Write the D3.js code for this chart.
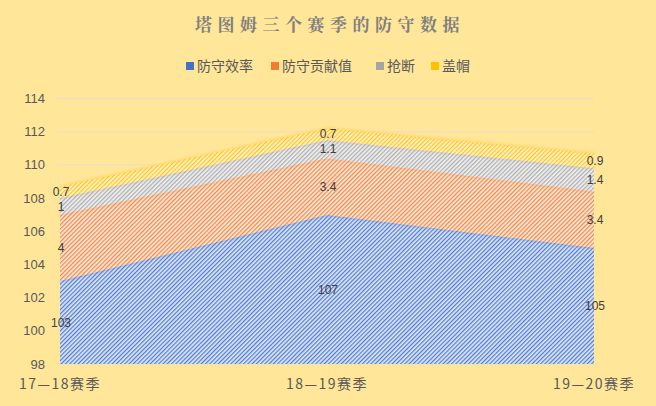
<!DOCTYPE html>
<html>
<head>
<meta charset="utf-8">
<script src="https://cdn.jsdelivr.net/npm/d3@7"></script>
<style>
  html, body { margin: 0; padding: 0; background: #FFE699; }
  svg { display: block; }
</style>
</head>
<body>
<div id="chart"></div>
<script>
// Tatum defensive stats, three seasons (stacked area)
const seasons = ['17—18赛季', '18—19赛季', '19—20赛季'];
const seriesNames = ['防守效率', '防守贡献值', '抢断', '盖帽'];
const defRating = [103, 107, 105];
const defContribution = [4, 3.4, 3.4];
const steals = [1, 1.1, 1.4];
const blocks = [0.7, 0.7, 0.9];
const yTicks = [98, 100, 102, 104, 106, 108, 110, 112, 114];

const width = 656, height = 406;
const margin = { left: 60, right: 62, top: 98.5, bottom: 42 };

// colours: stripe colour + pale base, per series
const palette = [
    { line: '#4F7AD0', base: '#DDE6F6', key: '#4472C4' },
    { line: '#EF8744', base: '#FCE8DA', key: '#ED7D31' },
    { line: '#ADADAD', base: '#EFEFEF', key: '#A5A5A5' },
    { line: '#FFC41A', base: '#FFF3D0', key: '#FFC000' }
];

const svg = d3.select('#chart').append('svg')
    .attr('width', width)
    .attr('height', height);

svg.append('rect')
    .attr('width', width)
    .attr('height', height)
    .attr('fill', '#FFE699');

// hatch patterns
const defs = svg.append('defs');
palette.forEach((p, i) => {
    const pat = defs.append('pattern')
        .attr('id', 'hatch' + i)
        .attr('patternUnits', 'userSpaceOnUse')
        .attr('width', 3)
        .attr('height', 3)
        .attr('patternTransform', 'rotate(45)');
    pat.append('rect').attr('width', 3).attr('height', 3).attr('fill', p.base);
    pat.append('rect').attr('width', 1.2).attr('height', 3).attr('fill', p.line);
});
defs.append('filter').attr('id', 'soft')
    .append('feGaussianBlur').attr('stdDeviation', 0.8);

const x = d3.scalePoint()
    .domain(seasons)
    .range([margin.left, width - margin.right]);

const y = d3.scaleLinear()
    .domain([98, 114])
    .range([height - margin.bottom, margin.top]);

// gridlines
svg.append('g')
    .selectAll('line')
    .data(yTicks)
    .enter()
    .append('line')
    .attr('x1', margin.left - 3)
    .attr('x2', width - margin.right)
    .attr('y1', d => y(d))
    .attr('y2', d => y(d))
    .attr('stroke', '#F0DEC2')
    .attr('stroke-width', 1.3);

// stack data
const table = seasons.map((s, i) => ({
    season: s,
    '防守效率': defRating[i],
    '防守贡献值': defContribution[i],
    '抢断': steals[i],
    '盖帽': blocks[i]
}));
const stacked = d3.stack().keys(seriesNames)(table);

// stacking starts from the axis floor (98), not zero
const area = d3.area()
    .x(d => x(d.data.season))
    .y0(d => y(Math.max(d[0], 98)))
    .y1(d => y(d[1]));

const areas = svg.append('g');
stacked.forEach((layer, i) => {
    areas.append('path')
        .datum(layer)
        .attr('d', area)
        .attr('fill', 'url(#hatch' + i + ')');
    // soft top edge
    areas.append('path')
        .attr('d', d3.line().x(d => x(d.data.season)).y(d => y(d[1]))(layer))
        .attr('fill', 'none')
        .attr('stroke', palette[i].line)
        .attr('stroke-opacity', 0.4)
        .attr('stroke-width', 2)
        .attr('filter', 'url(#soft)');
});

// data labels, middle of each band
const labels = svg.append('g')
    .attr('font-family', '"Liberation Sans", Arial, sans-serif')
    .attr('font-size', 12)
    .attr('fill', '#404040')
    .attr('text-anchor', 'middle');
stacked.forEach(layer => {
    layer.forEach(d => {
        const lo = Math.max(d[0], 98);
        const v = d[1] - d[0];
        labels.append('text')
            .attr('x', x(d.data.season) + 1)
            .attr('y', y((lo + d[1]) / 2))
            .attr('dy', '0.35em')
            .text(v >= 10 ? Math.round(v) : +v.toFixed(1));
    });
});

// y axis labels
svg.append('g')
    .selectAll('text')
    .data(yTicks)
    .enter()
    .append('text')
    .attr('x', 45)
    .attr('y', d => y(d))
    .attr('dy', '0.35em')
    .attr('text-anchor', 'end')
    .attr('font-family', '"Liberation Sans", Arial, sans-serif')
    .attr('font-size', 13)
    .attr('fill', '#595959')
    .text(d => d);

// x axis labels
svg.append('g')
    .selectAll('text')
    .data(seasons)
    .enter()
    .append('text')
    .attr('x', d => x(d))
    .attr('y', 389)
    .attr('text-anchor', 'middle')
    .attr('font-family', '"Noto Sans CJK SC", sans-serif')
    .attr('font-size', 14)
    .attr('letter-spacing', 1.5)
    .attr('fill', '#595959')
    .text(d => d);

// title
svg.append('text')
    .attr('x', 330)
    .attr('y', 31)
    .attr('text-anchor', 'middle')
    .attr('font-family', '"Noto Serif CJK SC", "Noto Sans CJK SC", sans-serif')
    .attr('font-weight', 'bold')
    .attr('font-size', 17)
    .attr('letter-spacing', 5.5)
    .attr('fill', '#808080')
    .text('塔图姆三个赛季的防守数据');

// legend
const legendX = [186, 271, 376, 431];
const legend = svg.append('g');
seriesNames.forEach((name, i) => {
    legend.append('rect')
        .attr('x', legendX[i])
        .attr('y', 62)
        .attr('width', 8)
        .attr('height', 8)
        .attr('fill', palette[i].key);
    legend.append('text')
        .attr('x', legendX[i] + 11)
        .attr('y', 71)
        .attr('font-family', '"Noto Sans CJK SC", sans-serif')
        .attr('font-size', 14)
        .attr('fill', '#595959')
        .text(name);
});
</script>
</body>
</html>
